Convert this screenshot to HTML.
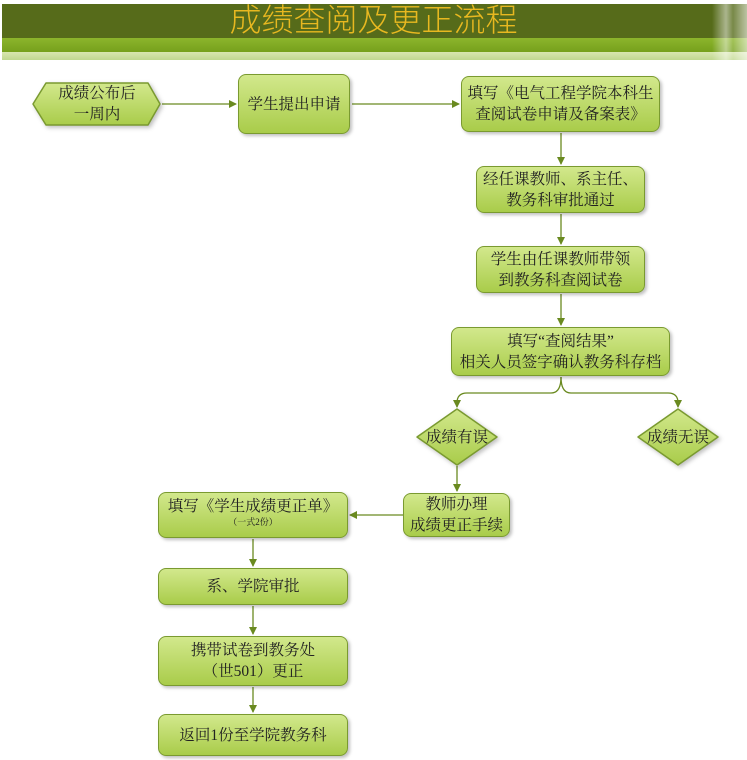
<!DOCTYPE html>
<html><head><meta charset="utf-8"><style>
body{margin:0;width:747px;height:760px;background:#fff;position:relative;overflow:hidden;font-family:"Liberation Serif","Noto Serif CJK SC",serif;}
.b{position:absolute;box-sizing:border-box;border:1.5px solid #7a9a30;border-radius:8px;background:linear-gradient(#d2e88c,#a9cc4a);box-shadow:2px 2px 3px rgba(0,0,0,0.25);display:flex;flex-direction:column;align-items:center;justify-content:center;text-align:center;font-size:15.5px;line-height:21px;color:#222;}
.t{position:absolute;text-align:center;font-size:15.5px;line-height:21px;color:#222;}
</style></head><body>
<div style="position:absolute;left:2px;top:4px;width:745px;height:34px;background:#566b1a"></div>
<div style="position:absolute;left:2px;top:38px;width:745px;height:14px;background:linear-gradient(#8cb52c,#76a01c)"></div>
<div style="position:absolute;left:2px;top:52px;width:745px;height:8px;background:linear-gradient(#d8e6b0,#c0d890)"></div>
<div style="position:absolute;left:712px;top:4px;width:35px;height:56px;background:linear-gradient(90deg,rgba(255,255,255,0),rgba(255,255,255,0.5) 40%,rgba(255,255,255,0.2) 60%,rgba(255,255,255,0.6))"></div>
<div style="position:absolute;left:0;top:1px;width:747px;text-align:center;font-size:32px;line-height:38px;color:#e8b820;font-family:'Liberation Sans','Noto Sans CJK SC',sans-serif;font-weight:300">成绩查阅及更正流程</div>

<svg width="747" height="760" style="position:absolute;left:0;top:0">
<defs><marker id="a" markerWidth="8" markerHeight="8" refX="7" refY="4" orient="auto" markerUnits="userSpaceOnUse"><path d="M0,0 L8,4 L0,8 z" fill="#6a8a20"/></marker>
<linearGradient id="g" x1="0" y1="0" x2="0" y2="1"><stop offset="0" stop-color="#d2e88c"/><stop offset="1" stop-color="#a9cc4a"/></linearGradient></defs>
<g stroke="#6a8a20" stroke-width="1.3" fill="none">
<line x1="162" y1="104" x2="236" y2="104" marker-end="url(#a)"/>
<line x1="352" y1="104" x2="459" y2="104" marker-end="url(#a)"/>
<line x1="561" y1="133" x2="561" y2="164" marker-end="url(#a)"/>
<line x1="561" y1="214" x2="561" y2="244" marker-end="url(#a)"/>
<line x1="561" y1="294" x2="561" y2="325" marker-end="url(#a)"/>
<path d="M561,377 Q561,393 551,393 L467,393 Q457,393 457,403 L457,407" marker-end="url(#a)"/>
<path d="M561,377 Q561,393 571,393 L668,393 Q678,393 678,403 L678,407" marker-end="url(#a)"/>
<line x1="457" y1="466" x2="457" y2="491" marker-end="url(#a)"/>
<line x1="403" y1="515" x2="350" y2="515" marker-end="url(#a)"/>
<line x1="253" y1="539" x2="253" y2="566" marker-end="url(#a)"/>
<line x1="253" y1="606" x2="253" y2="634" marker-end="url(#a)"/>
<line x1="253" y1="687" x2="253" y2="712" marker-end="url(#a)"/>
</g>
<g stroke="#7a9a30" stroke-width="1.5" fill="url(#g)" style="filter:drop-shadow(2px 2px 2px rgba(0,0,0,0.25))">
<path d="M46,83 L148,83 L160,104 L148,125 L46,125 L33,104 Z" stroke-linejoin="round"/>
<path d="M457,409 L497,437 L457,465 L417,437 Z" stroke-linejoin="round"/>
<path d="M678,409 L718,437 L678,465 L638,437 Z" stroke-linejoin="round"/>
</g>
</svg>
<div class="t" style="left:33px;top:83px;width:128px">成绩公布后<br>一周内</div>
<div class="t" style="left:412px;top:427px;width:90px">成绩有误</div>
<div class="t" style="left:633px;top:427px;width:90px">成绩无误</div>

<div class="b" style="left:238px;top:74px;width:112px;height:60px">学生提出申请</div>
<div class="b" style="left:461px;top:76px;width:199px;height:56px">填写《电气工程学院本科生<br>查阅试卷申请及备案表》</div>
<div class="b" style="left:476px;top:166px;width:169px;height:47px">经任课教师、系主任、<br>教务科审批通过</div>
<div class="b" style="left:476px;top:246px;width:169px;height:47px">学生由任课教师带领<br>到教务科查阅试卷</div>
<div class="b" style="left:451px;top:327px;width:219px;height:49px">填写“查阅结果”<br>相关人员签字确认教务科存档</div>
<div class="b" style="left:403px;top:493px;width:107px;height:44px">教师办理<br>成绩更正手续</div>
<div class="b" style="left:158px;top:492px;width:190px;height:46px;line-height:19px;justify-content:flex-start;padding-top:4px">填写《学生成绩更正单》<span style="font-size:9px;line-height:12px">（一式2份）</span></div>
<div class="b" style="left:158px;top:568px;width:190px;height:37px">系、学院审批</div>
<div class="b" style="left:158px;top:636px;width:190px;height:50px">携带试卷到教务处<br>（世501）更正</div>
<div class="b" style="left:158px;top:714px;width:190px;height:42px">返回1份至学院教务科</div>
</body></html>
